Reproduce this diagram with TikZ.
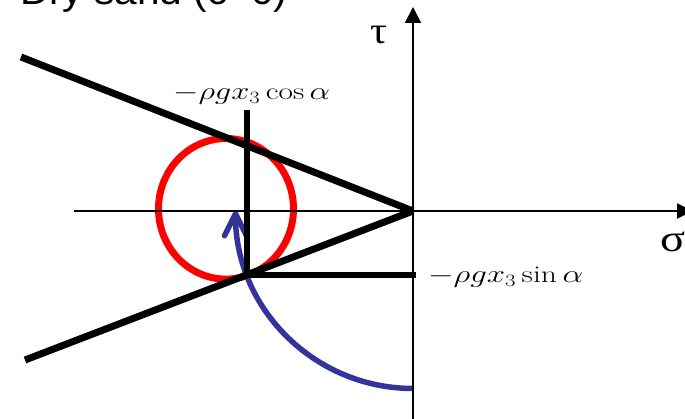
\documentclass[tikz,border=0pt]{standalone}
\usepackage{fontspec}
\usepackage{graphicx}
\newfontfamily\arialfont{Liberation Sans}
\newfontfamily\timesfont{Liberation Serif}
\usetikzlibrary{arrows.meta}
\definecolor{arcblue}{RGB}{51,51,153}
\tikzset{
  axis/.style={line width=2pt, draw=black},
  envelope/.style={line width=7pt, draw=black, line cap=butt},
  stressline/.style={line width=6pt, draw=black, line join=miter},
  mohr/.style={line width=7pt, draw=red},
  rotarc/.style={line width=5.5pt, draw=arcblue, -{Straight Barb[length=22pt,width=22pt,round]}},
  mathlabel/.style={inner sep=0pt, anchor=base west, font=\fontsize{24}{28}\selectfont},
  greeklabel/.style={inner sep=0pt, font=\timesfont\fontsize{38}{44}\selectfont}
}
\begin{document}
\begin{tikzpicture}[x=1pt,y=-1pt]
\useasboundingbox (0,0) rectangle (685,419);
% title (cut off at the top)
\node[inner sep=0pt, anchor=base west, font=\arialfont\fontsize{38}{44}\selectfont] (title) at (20,5) {\resizebox{267pt}{\height}{Dry sand (c=0)}};
% coordinates
\coordinate (O) at (413,211);
\coordinate (hl) at (74,211);
\coordinate (hr) at (693,211);
\coordinate (vb) at (413,425);
\coordinate (vt) at (413,7);
\coordinate (up) at (21,57);
\coordinate (lo) at (25,360);
\coordinate (ctop) at (246.5,110);
\coordinate (send) at (416,275.5);
\coordinate (arcstart) at (413,388.5);
% Mohr circle
\draw[mohr] (226,208.8) ellipse [x radius=67.5, y radius=70.3];
% rotation arc
\draw[rotarc] (arcstart) arc[start angle=90, end angle=180, radius=177.5];
% axes
\draw[axis, -{Triangle[length=16pt,width=15pt]}] (hl) -- (hr);
\draw[axis, -{Triangle[length=16pt,width=16pt]}] (vb) -- (vt);
% failure envelope
\draw[envelope] (up) -- (O);
\draw[envelope] (lo) -- (O);
% stress components
\draw[stressline] (ctop) |- (send);
% labels
\node[mathlabel] (cosl) at (173,100) {\resizebox{157pt}{\height}{$-\rho g x_3\cos\alpha$}};
\node[mathlabel] (sinl) at (428,283) {\resizebox{155pt}{\height}{$-\rho g x_3\sin\alpha$}};
\node[greeklabel] (tau) at (378.5,35) {\resizebox{17pt}{\height}{τ}};
\node[greeklabel] (sigma) at (672.5,242) {\resizebox{25pt}{\height}{σ}};
\end{tikzpicture}
\end{document}
